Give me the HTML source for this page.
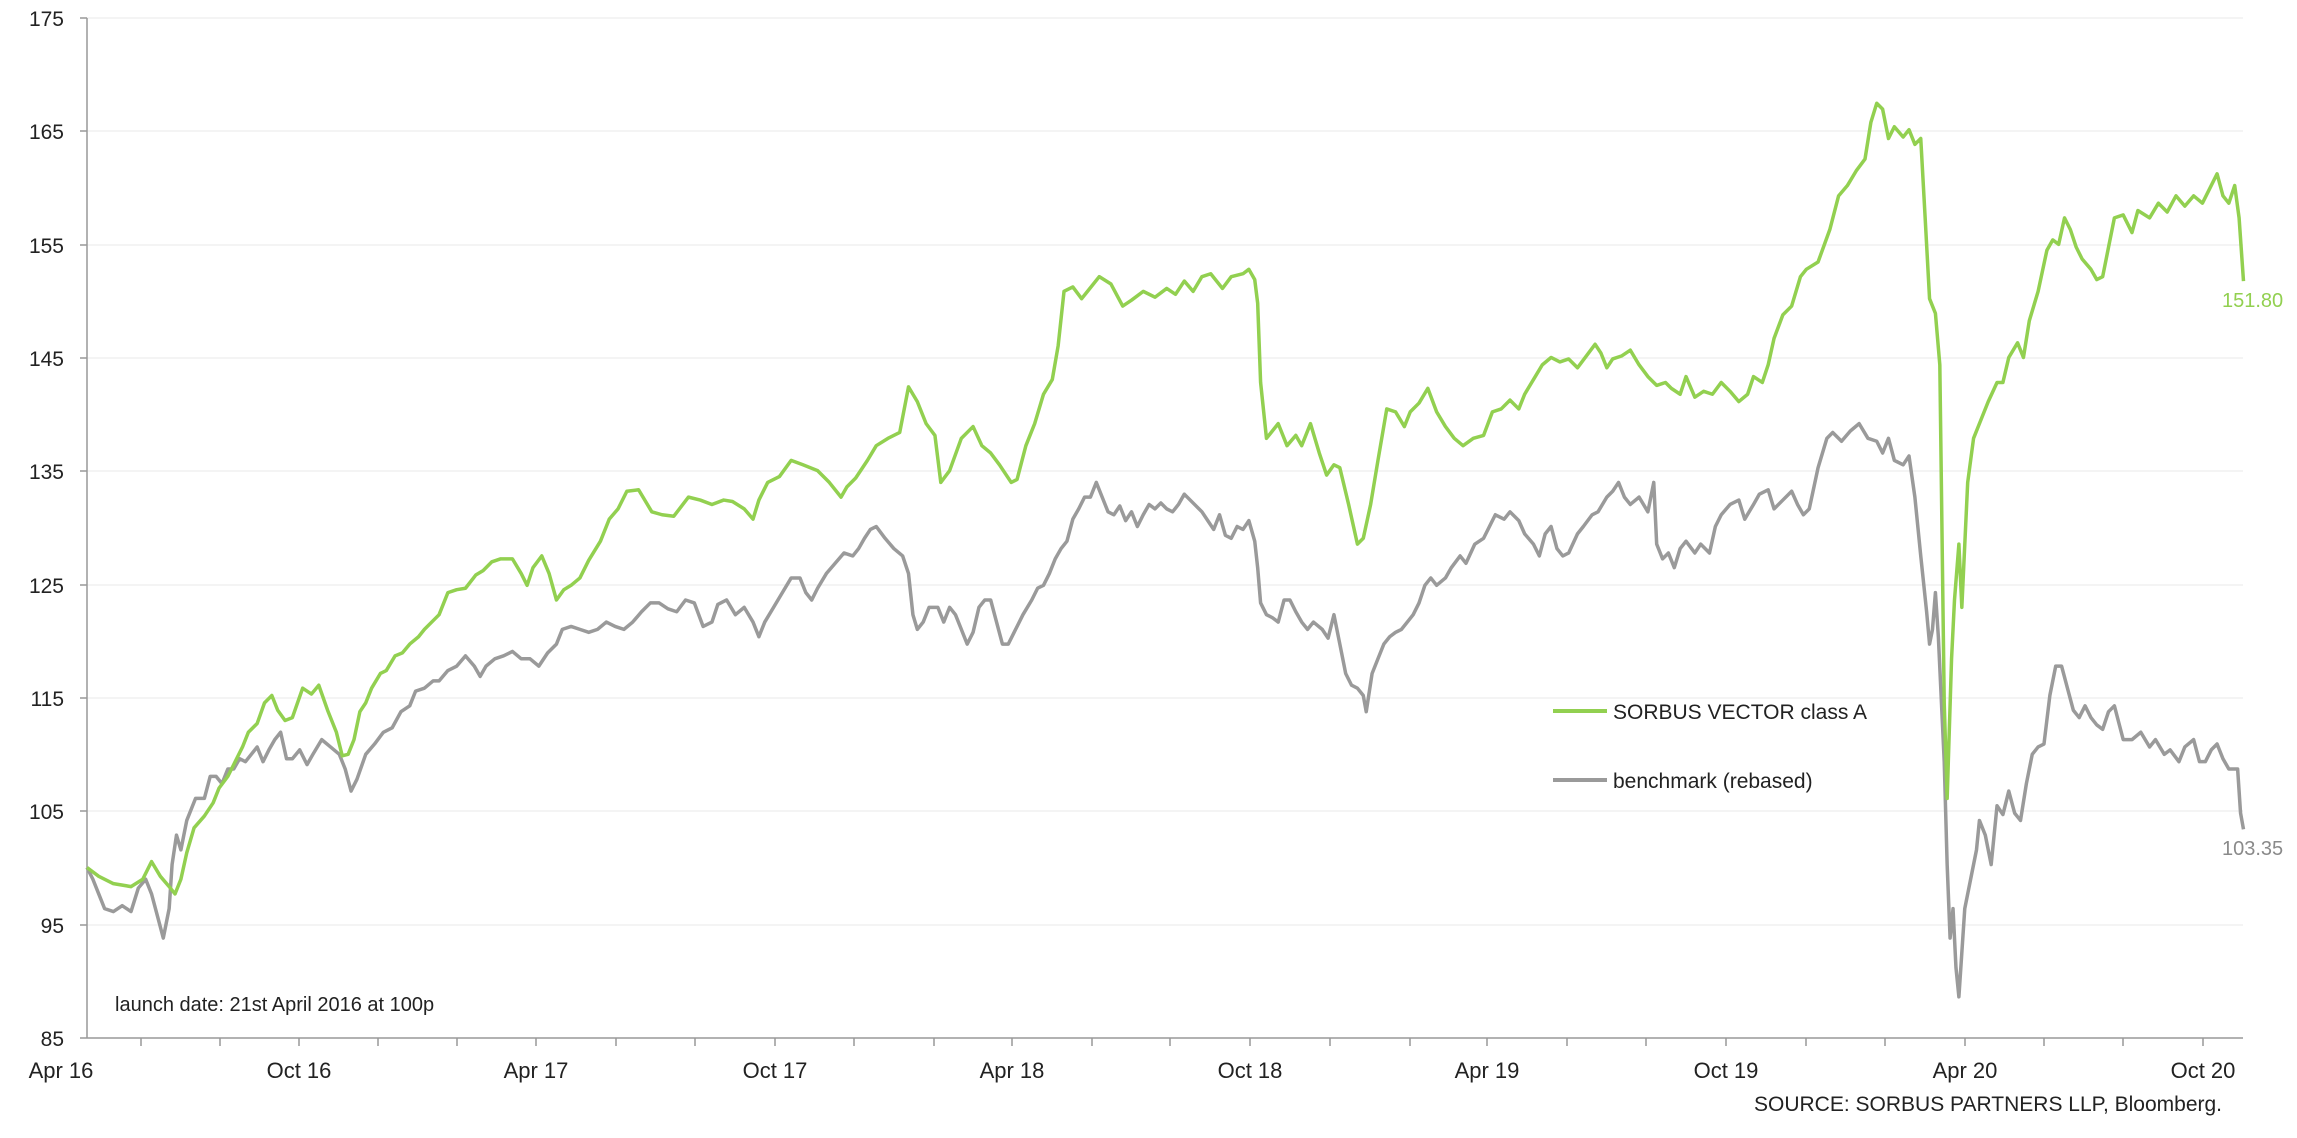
<!DOCTYPE html>
<html><head><meta charset="utf-8"><style>
html,body{margin:0;padding:0;background:#fff;}
svg{display:block;}
text{font-family:"Liberation Sans",sans-serif;fill:#222;}
</style></head><body>
<svg width="2297" height="1138" viewBox="0 0 2297 1138" xmlns="http://www.w3.org/2000/svg">
<g stroke="#f0f0f0" stroke-width="1.5">
<line x1="87" y1="18" x2="2243" y2="18"/><line x1="87" y1="131" x2="2243" y2="131"/><line x1="87" y1="245" x2="2243" y2="245"/><line x1="87" y1="358" x2="2243" y2="358"/><line x1="87" y1="471" x2="2243" y2="471"/><line x1="87" y1="585" x2="2243" y2="585"/><line x1="87" y1="698" x2="2243" y2="698"/><line x1="87" y1="811" x2="2243" y2="811"/><line x1="87" y1="925" x2="2243" y2="925"/>
</g>
<g stroke="#999" stroke-width="1.5">
<line x1="87" y1="18" x2="87" y2="1038"/><line x1="87" y1="1038" x2="2243" y2="1038"/>
<line x1="80" y1="18" x2="87" y2="18"/><line x1="80" y1="131" x2="87" y2="131"/><line x1="80" y1="245" x2="87" y2="245"/><line x1="80" y1="358" x2="87" y2="358"/><line x1="80" y1="471" x2="87" y2="471"/><line x1="80" y1="585" x2="87" y2="585"/><line x1="80" y1="698" x2="87" y2="698"/><line x1="80" y1="811" x2="87" y2="811"/><line x1="80" y1="925" x2="87" y2="925"/><line x1="80" y1="1038" x2="87" y2="1038"/>
<line x1="141" y1="1038" x2="141" y2="1046"/><line x1="220" y1="1038" x2="220" y2="1046"/><line x1="299" y1="1038" x2="299" y2="1046"/><line x1="378" y1="1038" x2="378" y2="1046"/><line x1="457" y1="1038" x2="457" y2="1046"/><line x1="536" y1="1038" x2="536" y2="1046"/><line x1="616" y1="1038" x2="616" y2="1046"/><line x1="695" y1="1038" x2="695" y2="1046"/><line x1="775" y1="1038" x2="775" y2="1046"/><line x1="854" y1="1038" x2="854" y2="1046"/><line x1="934" y1="1038" x2="934" y2="1046"/><line x1="1012" y1="1038" x2="1012" y2="1046"/><line x1="1092" y1="1038" x2="1092" y2="1046"/><line x1="1170" y1="1038" x2="1170" y2="1046"/><line x1="1250" y1="1038" x2="1250" y2="1046"/><line x1="1330" y1="1038" x2="1330" y2="1046"/><line x1="1410" y1="1038" x2="1410" y2="1046"/><line x1="1487" y1="1038" x2="1487" y2="1046"/><line x1="1567" y1="1038" x2="1567" y2="1046"/><line x1="1646" y1="1038" x2="1646" y2="1046"/><line x1="1726" y1="1038" x2="1726" y2="1046"/><line x1="1806" y1="1038" x2="1806" y2="1046"/><line x1="1885" y1="1038" x2="1885" y2="1046"/><line x1="1965" y1="1038" x2="1965" y2="1046"/><line x1="2044" y1="1038" x2="2044" y2="1046"/><line x1="2123" y1="1038" x2="2123" y2="1046"/><line x1="2203" y1="1038" x2="2203" y2="1046"/>
</g>
<g font-size="21" text-anchor="end">
<text x="64" y="26">175</text><text x="64" y="139">165</text><text x="64" y="253">155</text><text x="64" y="366">145</text><text x="64" y="479">135</text><text x="64" y="593">125</text><text x="64" y="706">115</text><text x="64" y="819">105</text><text x="64" y="933">95</text><text x="64" y="1046">85</text>
</g>
<g font-size="22" text-anchor="middle">
<text x="61" y="1078">Apr 16</text><text x="299" y="1078">Oct 16</text><text x="536" y="1078">Apr 17</text><text x="775" y="1078">Oct 17</text><text x="1012" y="1078">Apr 18</text><text x="1250" y="1078">Oct 18</text><text x="1487" y="1078">Apr 19</text><text x="1726" y="1078">Oct 19</text><text x="1965" y="1078">Apr 20</text><text x="2203" y="1078">Oct 20</text>
</g>
<text x="115" y="1011" font-size="20">launch date: 21st April 2016 at 100p</text>
<text x="2222" y="1111" font-size="21" text-anchor="end">SOURCE: SORBUS PARTNERS LLP, Bloomberg.</text>
<g transform="matrix(1.467 0 0 1.4697 -1.02 -2.58)" fill="none" stroke-linejoin="round">
<polyline vector-effect="non-scaling-stroke" stroke="#9a9a9a" stroke-width="3.5" points="60,592 64,600 68,610 72,620 78,622 84,618 90,622 95,606 100,600 104,610 108,625 112,640 116,620 118,590 121,570 124,580 128,560 134,545 140,545 144,530 148,530 152,535 156,525 160,525 164,518 168,520 172,515 176,510 180,520 184,512 188,505 192,500 196,518 200,518 205,512 210,522 214,515 220,505 226,510 232,515 236,525 240,540 244,532 250,515 256,508 262,500 268,497 274,486 280,482 284,472 290,470 296,465 300,465 306,458 312,455 318,448 324,455 328,462 332,455 338,450 344,448 350,445 356,450 362,450 368,455 374,446 380,440 384,430 390,428 396,430 402,432 408,430 414,425 420,428 426,430 432,425 438,418 444,412 450,412 456,416 462,418 468,410 474,412 480,428 486,425 490,413 496,410 502,420 508,415 514,425 518,435 522,425 528,415 534,405 540,395 546,395 550,405 554,410 558,402 564,392 570,385 576,378 582,380 586,375 590,368 594,362 598,360 604,368 610,375 616,380 620,392 623,420 626,430 630,425 634,415 640,415 644,425 648,415 652,420 656,430 660,440 664,432 668,415 672,410 676,410 680,425 684,440 688,440 692,432 698,420 704,410 708,402 712,400 716,392 720,382 724,375 728,370 732,355 736,348 740,340 744,340 748,330 752,340 756,350 760,352 764,346 768,356 772,350 776,360 780,352 784,345 788,348 792,344 796,348 800,350 804,345 808,338 812,342 816,346 820,350 824,356 828,362 832,352 836,366 840,368 844,360 848,362 852,356 856,370 858,388 860,412 864,420 868,422 872,425 876,410 880,410 884,418 888,425 892,430 896,425 902,430 906,436 910,420 914,440 918,460 922,468 926,470 930,475 932,486 936,460 940,450 944,440 948,435 952,432 956,430 960,425 964,420 968,412 972,400 976,395 980,400 986,395 990,388 996,380 1000,385 1006,372 1012,368 1016,360 1020,352 1026,355 1030,350 1036,356 1040,365 1046,372 1050,380 1054,365 1058,360 1062,375 1066,380 1070,378 1076,365 1080,360 1086,352 1090,350 1096,340 1100,336 1104,330 1108,340 1112,345 1118,340 1124,350 1128,330 1130,372 1134,382 1138,378 1142,388 1146,375 1150,370 1156,378 1160,372 1166,378 1170,360 1174,352 1180,345 1186,342 1190,355 1196,345 1200,338 1206,335 1210,348 1216,342 1222,336 1226,345 1230,352 1234,348 1240,320 1246,300 1250,296 1256,302 1262,295 1268,290 1274,300 1280,302 1284,310 1288,300 1292,315 1298,318 1302,312 1306,340 1310,380 1314,418 1316,440 1318,430 1320,405 1322,435 1326,520 1328,590 1330,640 1332,620 1334,660 1336,680 1338,650 1340,620 1344,600 1348,580 1350,560 1354,570 1358,590 1362,550 1366,556 1370,540 1374,555 1378,560 1382,535 1386,515 1390,510 1394,508 1398,475 1402,455 1406,455 1410,470 1414,485 1418,490 1422,482 1426,490 1430,495 1434,498 1438,486 1442,482 1448,505 1454,505 1460,500 1466,510 1470,505 1476,515 1480,512 1486,520 1490,510 1496,505 1500,520 1504,520 1508,512 1512,508 1516,518 1520,525 1526,525 1528,555 1530,566"/>
<polyline vector-effect="non-scaling-stroke" stroke="#92d050" stroke-width="3.5" points="60,592 68,598 78,603 90,605 98,600 104,588 110,598 116,605 120,610 124,600 128,582 133,565 140,557 146,548 150,538 156,530 160,522 166,510 170,500 176,494 181,480 186,475 190,485 195,492 200,490 207,470 213,474 218,468 224,485 230,500 234,516 238,515 242,505 246,486 250,480 254,470 260,460 264,458 270,448 275,446 280,440 286,435 290,430 296,424 300,420 306,405 312,403 318,402 325,393 330,390 336,384 342,382 350,382 356,392 360,400 364,388 370,380 375,392 380,410 385,403 390,400 396,395 402,383 410,370 416,355 422,348 428,336 436,335 445,350 452,352 460,353 470,340 478,342 486,345 494,342 500,343 508,348 514,355 518,342 524,330 532,326 540,315 548,318 558,322 566,330 574,340 578,333 584,327 592,315 598,305 606,300 614,296 620,265 626,275 632,290 638,298 642,330 648,322 656,300 664,292 670,305 676,310 682,318 690,330 694,328 700,305 706,290 712,270 718,260 722,237 726,200 732,197 738,205 742,200 750,190 758,195 766,210 772,206 780,200 788,204 796,198 802,202 808,193 814,200 820,190 826,188 834,198 840,190 848,188 852,185 856,192 858,208 860,262 864,300 868,295 872,290 878,305 884,298 888,305 894,290 900,310 905,325 910,318 914,320 920,345 926,372 930,368 935,345 940,315 946,280 952,282 958,292 962,282 968,276 974,266 980,282 986,292 992,300 998,305 1005,300 1012,298 1018,282 1024,280 1030,274 1036,280 1040,270 1046,260 1052,250 1058,245 1064,248 1070,246 1076,252 1082,244 1088,236 1092,242 1096,252 1100,246 1106,244 1112,240 1118,250 1124,258 1130,264 1136,262 1140,266 1146,270 1150,258 1156,272 1162,268 1168,270 1174,262 1180,268 1186,275 1192,270 1196,258 1202,262 1206,250 1210,232 1216,216 1222,210 1228,190 1232,185 1240,180 1248,158 1254,135 1260,128 1266,118 1272,110 1276,85 1280,72 1284,76 1288,96 1292,88 1298,95 1302,90 1306,100 1310,96 1313,150 1316,205 1320,215 1323,250 1326,480 1328,545 1331,450 1333,410 1336,372 1338,415 1342,330 1346,300 1350,290 1356,275 1362,262 1366,262 1370,245 1376,235 1380,245 1384,220 1390,200 1396,172 1400,165 1404,168 1408,150 1412,158 1416,170 1420,178 1426,185 1430,192 1434,190 1438,170 1442,150 1448,148 1454,160 1458,145 1466,150 1472,140 1478,146 1484,135 1490,142 1496,135 1502,140 1508,128 1512,120 1516,135 1520,140 1524,128 1527,150 1530,193"/>
</g>
<line x1="1553" y1="711" x2="1607" y2="711" stroke="#92d050" stroke-width="4"/>
<line x1="1553" y1="780" x2="1607" y2="780" stroke="#9a9a9a" stroke-width="4"/>
<text x="1613" y="719" font-size="21">SORBUS VECTOR class A</text>
<text x="1613" y="788" font-size="21">benchmark (rebased)</text>
<text x="2222" y="307" font-size="20" style="fill:#92d050">151.80</text>
<text x="2222" y="855" font-size="20" style="fill:#8a8a8a">103.35</text>
</svg>
</body></html>
